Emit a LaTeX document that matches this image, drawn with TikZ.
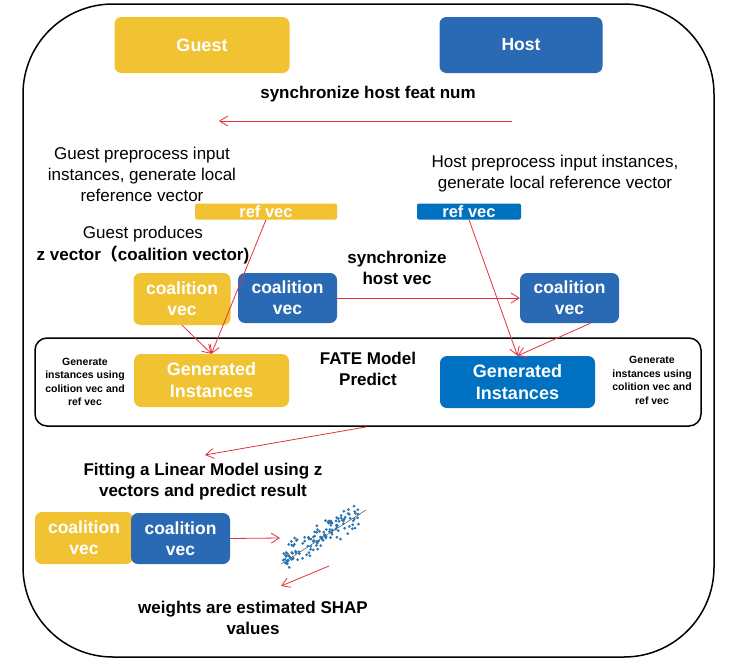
\documentclass[tikz,border=0pt]{standalone}
\usepackage{fontspec}
\setmainfont{Liberation Sans}
\newfontfamily\cjkfont{Noto Sans CJK SC}
\usetikzlibrary{arrows.meta,calc}
\definecolor{gold}{HTML}{F1C232}
\definecolor{dblue}{HTML}{2A6AB4}
\definecolor{bblue}{HTML}{0070C0}
\definecolor{arr}{HTML}{E2333D}
\definecolor{dotblue}{HTML}{2B74B2}
\begin{document}
\begin{tikzpicture}[x=1pt,y=-1pt,
  box/.style={rectangle,rounded corners=7pt,inner sep=0pt,text=white,align=center,
    font=\bfseries\fontsize{17.5}{21}\selectfont},
  goldbox/.style={box,fill=gold},
  bluebox/.style={box,fill=dblue},
  brightbox/.style={box,fill=bblue},
  lbl/.style={inner sep=0pt,align=center,font=\fontsize{17}{21}\selectfont},
  blbl/.style={inner sep=0pt,align=center,font=\bfseries\fontsize{17}{21}\selectfont},
  small/.style={inner sep=0pt,align=center,font=\bfseries\fontsize{10.5}{13.5}\selectfont},
  link/.style={draw=arr,line width=0.8pt,-{Straight Barb[length=8pt,width=10pt]}},
  frame/.style={draw=black,line width=1.5pt,inner sep=0pt},
]
\useasboundingbox (0,0) rectangle (738,664);
\fill[white] (0,0) rectangle (738,664);

% outer frame
\node[frame,rounded corners=90pt,minimum width=691pt,minimum height=653pt] (outer) at (368.5,330.5) {};

% top parties
\node[goldbox,minimum width=175pt,minimum height=56pt,font=\bfseries\fontsize{18}{21}\selectfont] (guest) at (202,45) {Guest};
\node[bluebox,minimum width=163pt,minimum height=56pt] (host) at (521,45) {Host};
\node[blbl] (syncfeat) at (368,94) {synchronize host feat num};
\coordinate (featR) at (512,121);
\coordinate (featL) at (219,121);
\draw[link] (featR) -- (featL);

% preprocessing
\node[lbl] (gprep) at (142,174) {Guest preprocess input\\instances, generate local\\reference vector};
\node[lbl] (hprep) at (555,174) {Host preprocess input instances,\\generate local reference vector};
\node[goldbox,rounded corners=2pt,minimum width=142pt,minimum height=16pt,font=\bfseries\fontsize{16.5}{18}\selectfont] (grefvec) at (266,211.5) {ref vec};
\node[brightbox,rounded corners=2pt,minimum width=104pt,minimum height=16pt,font=\bfseries\fontsize{16.5}{18}\selectfont] (hrefvec) at (469,211.5) {ref vec};

\node[lbl] (gprod) at (143,234) {Guest produces};
\node[blbl] (zvec) at (143,255) {z vector{\cjkfont （}coalition vector)};

% coalition vectors
\node[goldbox,minimum width=97pt,minimum height=52pt] (covG) at (182,299) {coalition\\vec};
\node[bluebox,minimum width=99pt,minimum height=50pt] (covB) at (287.5,298) {coalition\\vec};
\node[bluebox,minimum width=99pt,minimum height=50pt] (covH) at (569.5,298) {coalition\\vec};
\node[blbl] (synchv) at (397,267.5) {synchronize\\host vec};
\draw[link] (covB.east) -- (covH.west);

% FATE predict box
\node[frame,rounded corners=12pt,minimum width=666pt,minimum height=88pt] (fate) at (368,382) {};
\node[blbl] (fatetxt) at (368,368.5) {FATE Model\\Predict};
\node[goldbox,minimum width=155pt,minimum height=53pt,font=\bfseries\fontsize{18}{22}\selectfont] (genG) at (211.5,380.5) {Generated\\Instances};
\node[brightbox,minimum width=155pt,minimum height=52pt,font=\bfseries\fontsize{18}{22}\selectfont] (genH) at (517.5,382) {Generated\\Instances};
\node[small] (gnote) at (85,382) {Generate\\instances using\\colition vec and\\ref vec};
\node[small] (hnote) at (652,380.5) {Generate\\instances using\\colition vec and\\ref vec};

\draw[link] (covG.south) -- (genG.north);
\draw[link] (grefvec.south) -- (genG.north);
\draw[link] (hrefvec.south) -- (genH.north);
\draw[link] ($(covH.south)+(21,0)$) -- (genH.north);

% linear model
\coordinate (fitTop) at (205,455);
\draw[link] ($(fate.south)+(-1,0)$) -- (fitTop);
\node[blbl] (fit) at (203,482) {Fitting a Linear Model using z\\vectors and predict result};
\node[goldbox,minimum width=98pt,minimum height=52pt] (cov2G) at (84,538) {coalition\\vec};
\node[bluebox,minimum width=99pt,minimum height=51pt] (cov2B) at (180.5,538.5) {coalition\\vec};

% scatter plot
\draw[gray!60!black,line width=0.5pt] (281,564) -- (366,510);
\pgfmathsetseed{3}
\foreach \i in {1,...,130}{
  \pgfmathsetmacro\t{rnd}
  \pgfmathsetmacro\px{284+76*\t+rand*2}
  \pgfmathsetmacro\py{558-46*\t+(rand+rand)*8}
  \fill[dotblue] (\px,\py) circle (1.5pt);
}
\coordinate (scatL) at (280,538);
\draw[link] (cov2B.east) -- (scatL);
\coordinate (scatA) at (329,566);
\coordinate (scatB) at (281,586);
\draw[link] (scatA) -- (scatB);
\node[blbl] (weights) at (253,618) {weights are estimated SHAP\\values};
\end{tikzpicture}
\end{document}
